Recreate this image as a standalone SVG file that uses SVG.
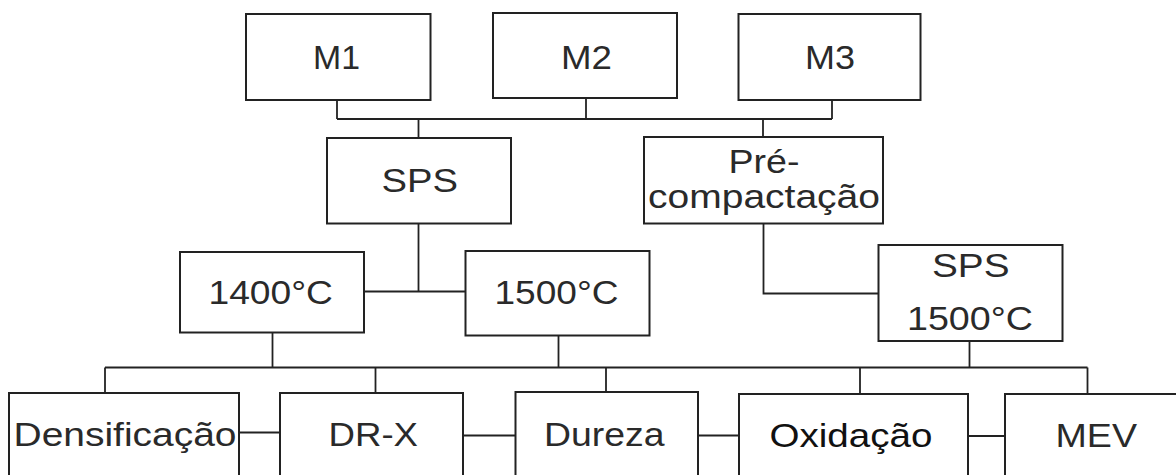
<svg xmlns="http://www.w3.org/2000/svg" width="1176" height="475" viewBox="0 0 1176 475">
<style>
.box{fill:#fff;stroke:#222;stroke-width:2}
.con line,.con polyline{stroke:#222;stroke-width:1.8;fill:none}
text{font-family:"Liberation Sans",Arial,sans-serif;font-size:33px;fill:#2a2a2a}
</style>
<rect width="1176" height="475" fill="#fff"/>
<g class="con" id="connectors">
<line x1="337" y1="100" x2="337" y2="119"/>
<line x1="586" y1="98" x2="586" y2="119"/>
<line x1="832" y1="100" x2="832" y2="119"/>
<line x1="337" y1="119" x2="832" y2="119"/>
<line x1="418.5" y1="119" x2="418.5" y2="138"/>
<line x1="763" y1="119" x2="763" y2="137"/>
<line x1="418.5" y1="223" x2="418.5" y2="291.5"/>
<line x1="364" y1="291.5" x2="465.5" y2="291.5"/>
<polyline points="763.5,223 763.5,293.5 878,293.5"/>
<line x1="272.5" y1="332.5" x2="272.5" y2="367.5"/>
<line x1="558.5" y1="335.5" x2="558.5" y2="367.5"/>
<line x1="969.5" y1="341" x2="969.5" y2="367.5"/>
<line x1="105" y1="367.5" x2="1087.5" y2="367.5"/>
<line x1="105" y1="367.5" x2="105" y2="393"/>
<line x1="375.5" y1="367.5" x2="375.5" y2="393"/>
<line x1="606" y1="367.5" x2="606" y2="392"/>
<line x1="860" y1="367.5" x2="860" y2="394"/>
<line x1="1087.5" y1="367.5" x2="1087.5" y2="394"/>
<line x1="239" y1="432.5" x2="280" y2="432.5"/>
<line x1="463" y1="435.5" x2="515.5" y2="435.5"/>
<line x1="698" y1="435.5" x2="739" y2="435.5"/>
<line x1="968" y1="436" x2="1005" y2="436"/>
</g>
<g id="m1"><rect class="box" x="246" y="14" width="184.5" height="86"/><text x="313" y="69" textLength="47" lengthAdjust="spacingAndGlyphs">M1</text></g>
<g id="m2"><rect class="box" x="493" y="13" width="184" height="85"/><text x="561" y="69" textLength="51" lengthAdjust="spacingAndGlyphs">M2</text></g>
<g id="m3"><rect class="box" x="738.5" y="14" width="182" height="86"/><text x="805" y="69" textLength="50" lengthAdjust="spacingAndGlyphs">M3</text></g>
<g id="sps"><rect class="box" x="327" y="138" width="184" height="85.5"/><text x="381.5" y="192" textLength="76.5" lengthAdjust="spacingAndGlyphs">SPS</text></g>
<g id="precompactacao"><rect class="box" x="644" y="137" width="239" height="86.5"/><text x="728.5" y="173" textLength="71" lengthAdjust="spacingAndGlyphs">Pré-</text><text x="648" y="208" textLength="232" lengthAdjust="spacingAndGlyphs">compactação</text></g>
<g id="t1400"><rect class="box" x="180" y="252" width="184" height="80.5"/><text x="208.5" y="304" textLength="124.5" lengthAdjust="spacingAndGlyphs">1400°C</text></g>
<g id="t1500"><rect class="box" x="465.5" y="251" width="184" height="84.5"/><text x="494.5" y="304" textLength="124" lengthAdjust="spacingAndGlyphs">1500°C</text></g>
<g id="sps1500"><rect class="box" x="878.5" y="245" width="184" height="96"/><text x="932" y="277" textLength="77.5" lengthAdjust="spacingAndGlyphs">SPS</text><text x="907" y="330" textLength="126" lengthAdjust="spacingAndGlyphs">1500°C</text></g>
<g id="densificacao"><rect class="box" x="9" y="393" width="230" height="100"/><text x="13.5" y="446" textLength="223" lengthAdjust="spacingAndGlyphs">Densificação</text></g>
<g id="drx"><rect class="box" x="280" y="393" width="183" height="100"/><text x="328.5" y="446" textLength="89.5" lengthAdjust="spacingAndGlyphs">DR-X</text></g>
<g id="dureza"><rect class="box" x="515.5" y="392" width="182.5" height="100"/><text x="544" y="446" textLength="120.5" lengthAdjust="spacingAndGlyphs">Dureza</text></g>
<g id="oxidacao"><rect class="box" x="739" y="394" width="229" height="100"/><text x="769.5" y="447" textLength="163" lengthAdjust="spacingAndGlyphs" style="fill:#111">Oxidação</text></g>
<g id="mev"><rect class="box" x="1005" y="394" width="200" height="100"/><text x="1055.5" y="446.5" textLength="81.5" lengthAdjust="spacingAndGlyphs">MEV</text></g>
</svg>
